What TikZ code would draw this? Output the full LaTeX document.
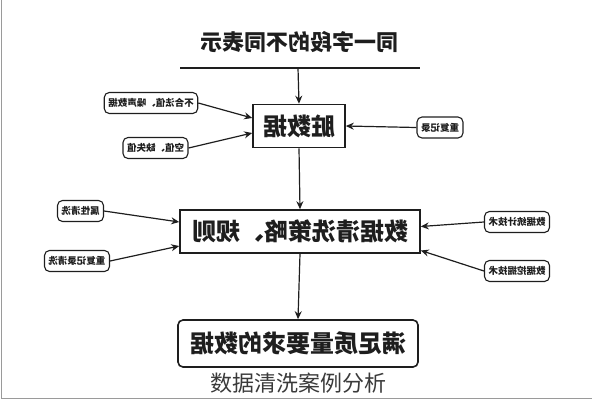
\documentclass[tikz,border=0pt]{standalone}
\usepackage{fontspec}
\usepackage{graphicx}
\usepackage{xcolor}
\usetikzlibrary{arrows.meta}
\newfontfamily\cjk{Noto Sans CJK SC}
\newcommand{\fl}[1]{\scalebox{-1}[1]{#1}}
\definecolor{ink}{HTML}{1E1E1E}
\definecolor{capgray}{HTML}{3A3A3A}
\definecolor{framegray}{HTML}{9A9A9A}

\begin{document}
\begin{tikzpicture}
        [x=1pt,y=-1pt,
    bigbox/.style={draw=ink,line width=1.6pt,minimum height=43pt,inner sep=0pt,text=ink,
        font=\cjk\bfseries\fontsize{24}{24}\selectfont},
    tag/.style={draw=ink,rounded corners=5pt,line width=1.1pt,minimum height=21pt,inner xsep=4pt,
        text=ink,font=\cjk\bfseries\fontsize{9.5}{9.5}\selectfont},
    arr/.style={draw=ink,line width=1.2pt,-{Stealth[length=8pt,width=7pt]}}]
    \useasboundingbox (0,0) rectangle (592,400);
    \draw[framegray,line width=1pt] (1,0) -- (1,398.5) -- (592,398.5);
    \node[text=ink,font=\cjk\bfseries\fontsize{22}{22}\selectfont] (title) at (299,42) {\fl{同一字段的不同表示}};
    \coordinate (barl) at (180,68);
    \coordinate (barr) at (420,68);
    \coordinate (barm) at (298,68);
    \draw[ink,line width=1.4pt] (barl) -- (barr);
    % main column
    \node[bigbox,minimum width=92pt] (dirty) at (299,126) {\fl{脏数据}};
    \node[bigbox,minimum width=240pt] (rule) at (300,231.5) {\fl{数据清洗策略、规则}};
    \node[bigbox,rounded corners=5pt,minimum width=240pt,minimum height=47pt] (good) at (298,343.5) {\fl{满足质量要求的数据}};
    \draw[arr] (barm) -- (dirty.north);
    \draw[arr] (dirty.south) -- (rule.north);
    \draw[arr] (rule.south) -- (good.north);
    % side tags
    \node[tag] (invalid) at (151,103) {\fl{不合法值、噪声数据}};
    \node[tag] (empty) at (155.5,148) {\fl{空值、缺失值}};
    \node[tag] (dup) at (440,127.5) {\fl{重复记录}};
    \node[tag] (attr) at (80.5,211) {\fl{属性清洗}};
    \node[tag] (dupclean) at (77,261) {\fl{重复记录清洗}};
    \node[tag] (stat) at (517,222) {\fl{数据统计技术}};
    \node[tag] (mine) at (517,271) {\fl{数据挖掘技术}};
    \draw[arr] (invalid.east) -- ([yshift=8pt]dirty.west);
    \draw[arr] (empty.east) -- ([yshift=-7pt]dirty.west);
    \draw[arr] (dup.west) -- (dirty.east);
    \draw[arr] (attr.east) -- ([yshift=9.5pt]rule.west);
    \draw[arr] (dupclean.east) -- ([yshift=-14.5pt]rule.west);
    \draw[arr] (stat.west) -- ([yshift=5pt]rule.east);
    \draw[arr] (mine.west) -- ([yshift=-19pt]rule.east);
    \node[text=capgray,font=\cjk\fontsize{22}{22}\selectfont] (caption) at (298,383) {数据清洗案例分析};
\end{tikzpicture}
\end{document}
